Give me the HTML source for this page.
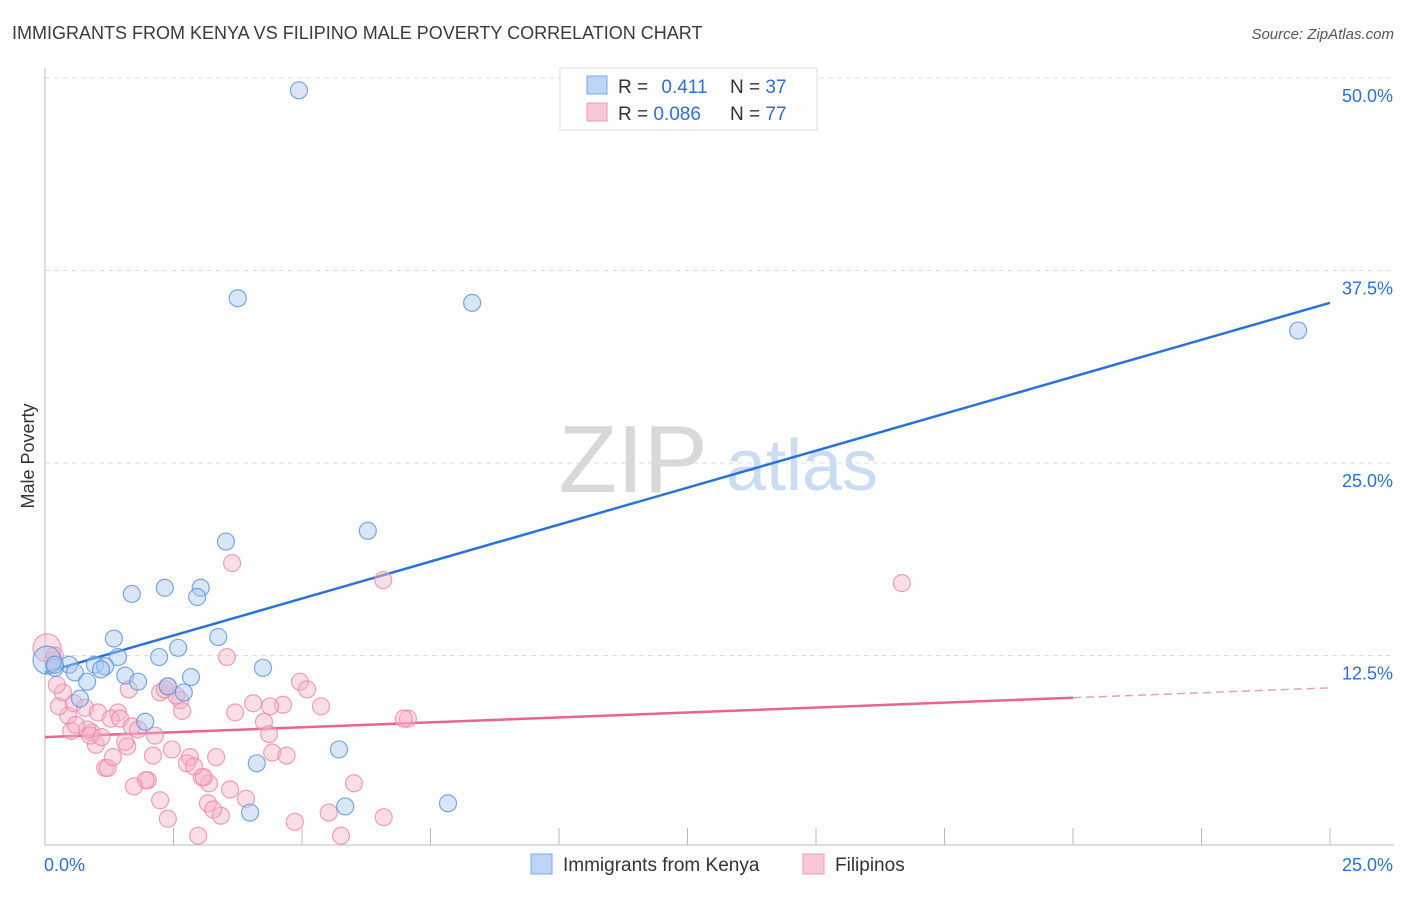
<!DOCTYPE html>
<html><head><meta charset="utf-8"><style>
body{margin:0;background:#fff;font-family:"Liberation Sans",sans-serif;}
svg text{font-family:"Liberation Sans",sans-serif;}
</style></head><body>
<svg id="chart" width="1406" height="892" viewBox="0 0 1406 892" xmlns="http://www.w3.org/2000/svg">
<text x="12" y="39" font-size="18" fill="#3a3a3a">IMMIGRANTS FROM KENYA VS FILIPINO MALE POVERTY CORRELATION CHART</text>
<text x="1394" y="39" font-size="15" font-style="italic" fill="#555" text-anchor="end">Source: ZipAtlas.com</text>
<text transform="translate(34,456) rotate(-90)" font-size="18" fill="#333" text-anchor="middle">Male Poverty</text>
<g>
<text x="633" y="492" font-size="96" font-family="Liberation Serif" fill="#d8d8d8" text-anchor="middle">ZIP</text>
<text x="802" y="490" font-size="72" fill="#c9dcf2" text-anchor="middle">atlas</text>
</g>
<g id="grid"></g><g id="axes"></g><g id="lines"></g><g id="pts"></g>
<g>
<rect x="560" y="68" width="257" height="62" fill="#fff" stroke="#ddd"/>
<rect x="587" y="76" width="20" height="18" fill="#bcd4f5" stroke="#7aa7e6"/>
<rect x="587" y="103" width="20" height="18" fill="#f9c8d6" stroke="#ee9ab3"/>
<text x="618" y="93" font-size="19" fill="#333">R =  <tspan fill="#2f6fd6" dx="8">0.411</tspan></text>
<text x="730" y="93" font-size="19" fill="#333">N = <tspan fill="#2f6fd6">37</tspan></text>
<text x="618" y="120" font-size="19" fill="#333">R = <tspan fill="#2f6fd6">0.086</tspan></text>
<text x="730" y="120" font-size="19" fill="#333">N = <tspan fill="#2f6fd6">77</tspan></text>
</g>
<g>
<rect x="531" y="854" width="21" height="20" fill="#bcd4f5" stroke="#7aa7e6"/>
<text x="563" y="871" font-size="19" fill="#333">Immigrants from Kenya</text>
<rect x="803" y="854" width="21" height="20" fill="#f9c8d6" stroke="#ee9ab3"/>
<text x="835" y="871" font-size="19" fill="#333">Filipinos</text>
</g>
</svg>
<script>
const yTicks=[12.5,25,37.5,50];
const yTickLabels=["12.5%","25.0%","37.5%","50.0%"];
const xTickLabels=["0.0%","25.0%"];
const kenyaX=[4.94,3.75,8.31,24.38,6.28,3.52,2.33,3.03,1.69,2.96,3.37,1.34,2.59,1.42,2.22,4.24,0.97,1.17,0.47,0.19,0.58,1.09,1.56,2.84,0.82,1.81,2.39,2.70,0.68,1.95,5.72,4.12,5.84,7.84,3.99,0.04,0.19];
const kenyaY=[49.2,35.7,35.4,33.6,20.6,19.9,16.9,16.9,16.5,16.3,13.7,13.6,13.0,12.4,12.4,11.7,11.9,11.8,11.9,11.7,11.4,11.6,11.2,11.1,10.8,10.8,10.5,10.1,9.7,8.2,6.4,5.5,2.7,2.9,2.3,12.2,11.9];
const filX=[16.67,3.64,6.58,3.54,4.96,5.10,5.37,4.05,4.63,4.38,3.70,7.06,6.98,4.26,4.36,4.42,6.01,6.59,4.86,5.52,5.76,2.98,3.91,3.42,3.17,3.27,3.19,3.05,3.09,2.82,2.76,3.33,2.90,2.47,2.39,2.24,2.00,1.96,1.73,1.17,1.22,1.32,1.60,1.56,0.99,0.91,0.82,0.88,0.51,0.45,0.27,0.56,0.78,1.03,1.42,1.28,1.46,1.69,1.81,2.14,2.63,2.67,2.55,2.24,2.33,2.39,1.63,0.35,0.23,0.16,0.04,0.19,0.6,1.1,2.1,3.6,4.7];
const filY=[17.2,18.5,17.4,12.4,10.8,10.3,9.2,9.4,9.3,9.2,8.8,8.4,8.4,8.2,7.4,6.2,4.2,2.0,1.7,2.3,0.8,0.8,3.2,2.1,2.9,2.5,4.2,4.6,4.6,5.9,5.5,5.9,5.3,6.4,1.9,3.1,4.4,4.4,4.0,5.2,5.2,5.9,6.6,6.9,6.7,7.5,7.7,7.3,7.6,8.6,9.2,9.4,9.1,8.8,8.8,8.4,8.4,7.9,7.7,7.3,9.6,8.9,9.9,10.1,10.3,10.5,10.3,10.1,10.6,12.2,13.0,12.5,8.0,7.2,6.0,3.8,6.0];
const kenyaTrend=[11.4,35.4];   // y at x=0 and x=25
const filTrend=[7.2,10.4];
const filSolidEnd=20;
const X=v=>45+v/25*1285, Y=v=>848-v/50*770;
const NS="http://www.w3.org/2000/svg";
function mk(tag,attrs,parent){const e=document.createElementNS(NS,tag);for(const k in attrs)e.setAttribute(k,attrs[k]);parent.appendChild(e);return e;}
const grid=document.getElementById('grid'),axes=document.getElementById('axes'),lines=document.getElementById('lines'),pts=document.getElementById('pts');
yTicks.forEach((t,i)=>{
 const l=mk('line',{x1:45,x2:1394,y1:Y(t),y2:Y(t),stroke:'#ddd','stroke-dasharray':'5,4'},grid);
 
 
 const tx=mk('text',{x:1393,y:Y(t)+24,'font-size':18,fill:'#2f6fd6','text-anchor':'end'},axes);
 tx.textContent=yTickLabels[i];
 
 
});
const ax=mk('line',{x1:45,x2:1394,y1:845,y2:845,stroke:'#bbb'},axes);


const ay=mk('line',{x1:45,x2:45,y1:68,y2:845,stroke:'#bbb'},axes);


for(let i=1;i<=10;i++){const x=45+i*128.5;const t=mk('line',{x1:x,x2:x,y1:828,y2:845,stroke:'#bbb'},axes);
 
 }
[[0,44,'start'],[25,1393,'end']].forEach((d,i)=>{const t=mk('text',{x:d[1],y:871,'font-size':18,fill:'#2f6fd6','text-anchor':d[2]},axes);t.textContent=xTickLabels[i];
 
 });
function drawPts(xs,ys,fill,stroke,name){xs.forEach((x,i)=>{const big=x<0.1;const c=mk('circle',{cx:X(x),cy:Y(ys[i]),r:big?14:8.5,fill:fill,'fill-opacity':0.45,stroke:stroke,'stroke-opacity':0.8,'stroke-width':1.2},pts);
 
 });}
drawPts(filX,filY,'#f6b3c7','#ec8aa8','filipinos-point');
drawPts(kenyaX,kenyaY,'#a9c8f0','#5b93dd','kenya-point');
const kl=mk('line',{x1:X(0),y1:Y(kenyaTrend[0]),x2:X(25),y2:Y(kenyaTrend[1]),stroke:'#2a72d8','stroke-width':2.5},lines);


const fy=v=>filTrend[0]+(filTrend[1]-filTrend[0])*v/25;
const fl=mk('line',{x1:X(0),y1:Y(fy(0)),x2:X(filSolidEnd),y2:Y(fy(filSolidEnd)),stroke:'#e8658f','stroke-width':2.5},lines);


const fd=mk('line',{x1:X(filSolidEnd),y1:Y(fy(filSolidEnd)),x2:X(25),y2:Y(fy(25)),stroke:'#e8a0b6','stroke-width':1.5,'stroke-dasharray':'8,5'},lines);


</script>
</body></html>
